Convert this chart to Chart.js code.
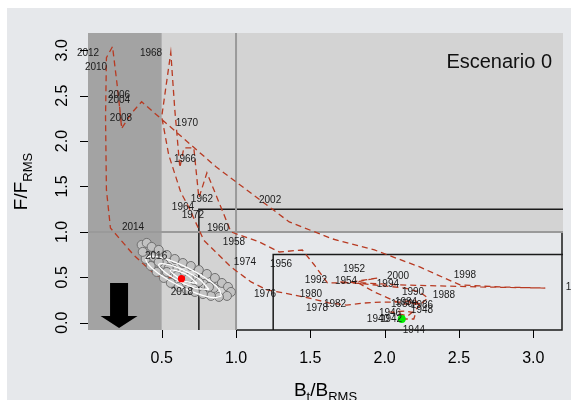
<!DOCTYPE html>
<html><head><meta charset="utf-8">
<script src="https://cdn.jsdelivr.net/npm/chart.js@4.4.1/dist/chart.umd.min.js"></script>
<style>html,body{margin:0;padding:0;background:#fff;overflow:hidden}canvas{display:block}</style>
</head><body>
<canvas id="c" width="571" height="400"></canvas>
<script>
// ---- data ----
const years = [1940,1941,1942,1943,1944,1945,1946,1947,1948,1949,1950,1951,1952,1953,1954,1955,1956,1957,1958,1959,
1960,1961,1962,1963,1964,1965,1966,1967,1968,1969,1970,1971,1972,1973,1974,1975,1976,1977,1978,1979,
1980,1981,1982,1983,1984,1985,1986,1987,1988,1989,1990,1991,1992,1993,1994,1995,1996,1997,1998,1999,
2000,2001,2002,2003,2004,2005,2006,2007,2008,2009,2010,2011,2012,2013,2014,2015,2016,2017,2018];
const bRatio = [2.115,2.196,2.209,2.135,2.047,2.155,2.236,2.169,2.25,2.135,2.068,1.932,1.811,1.953,1.73,1.615,1.527,1.446,1.291,1.155,
0.966,0.865,0.804,0.75,0.716,0.649,0.622,0.588,0.561,0.5,0.547,0.628,0.682,0.784,0.966,1.101,1.209,1.324,1.426,1.547,
1.628,1.743,1.865,1.986,2.101,2.203,2.236,2.291,2.236,2.135,2.0,1.865,1.696,1.865,2.101,2.642,3.081,2.777,2.507,2.236,
1.932,1.649,1.358,0.865,0.365,0.297,0.23,0.216,0.23,0.209,0.196,0.169,0.128,0.122,0.128,0.155,0.311,0.466,0.633];
const fRatio = [0.041,0.041,0.107,0.129,0.118,0.074,0.184,0.228,0.206,0.206,0.239,0.338,0.449,0.493,0.438,0.438,0.636,0.801,0.779,0.89,
1.0,1.407,1.65,1.374,1.926,1.926,1.706,2.346,2.975,2.268,1.849,1.437,1.272,0.906,0.614,0.449,0.361,0.327,0.294,0.25,
0.217,0.195,0.217,0.228,0.228,0.25,0.195,0.272,0.338,0.382,0.405,0.427,0.449,0.438,0.416,0.394,0.382,0.394,0.416,0.614,
0.801,0.923,1.11,1.717,2.433,2.307,2.14,2.387,2.163,2.488,2.676,3.04,2.919,2.264,1.463,1.043,0.746,0.515,0.485];

// year labels (label centres)
const labelYears = [1940,1942,1944,1946,1948,1950,1952,1954,1956,1958,1960,1962,1964,1966,1968,1970,1972,1974,1976,1978,
1980,1982,1984,1986,1988,1990,1992,1994,1996,1998,2000,2002,2004,2006,2008,2010,2012,2014,2016,2018];
const labelB = [1.955,2.043,2.197,2.036,2.251,2.117,1.794,1.740,1.303,0.986,0.879,0.771,0.643,0.657,0.428,0.670,0.710,1.060,1.195,1.545,
1.504,1.666,2.144,2.251,2.399,2.191,1.538,2.022,3.294,2.540,2.090,1.229,0.213,0.213,0.226,0.058,0.004,0.307,0.462,0.636];
const labelF = [0.041,0.041,-0.080,0.107,0.140,0.206,0.592,0.460,0.647,0.889,1.043,1.362,1.274,1.803,2.970,2.199,1.186,0.668,0.316,0.162,
0.316,0.206,0.228,0.195,0.305,0.338,0.470,0.426,0.393,0.525,0.514,1.351,2.452,2.507,2.254,2.815,2.970,1.054,0.735,0.338];

// uncertainty cloud of the last year
const cloudB = [0.365,0.399,0.432,0.480,0.534,0.588,0.642,0.696,0.750,0.804,0.858,0.905,0.946,0.966,0.939,0.885,0.831,0.777,0.723,0.669,0.615,0.561,0.514,0.466,0.426,0.392,0.372,
0.446,0.514,0.581,0.649,0.716,0.784,0.851,0.480,0.547,0.682,0.750,0.818,0.601,0.534];
const cloudF = [0.857,0.879,0.835,0.802,0.746,0.702,0.658,0.625,0.581,0.537,0.493,0.438,0.394,0.339,0.295,0.284,0.295,0.316,0.339,0.361,0.394,0.438,0.493,0.559,0.625,0.702,0.780,
0.724,0.647,0.581,0.526,0.471,0.427,0.383,0.669,0.603,0.493,0.449,0.394,0.515,0.559];

// density contours
const contour1B = [0.902,0.853,0.749,0.618,0.495,0.414,0.395,0.444,0.548,0.679,0.802,0.883,0.902];
const contour1F = [0.297,0.275,0.315,0.406,0.523,0.634,0.711,0.733,0.692,0.602,0.485,0.374,0.297];
const contour2B = [0.818,0.718,0.549,0.480,0.580,0.749,0.818];
const contour2F = [0.366,0.384,0.523,0.642,0.624,0.485,0.366];
const contour3B = [0.739,0.638,0.558,0.659,0.739];
const contour3F = [0.430,0.470,0.578,0.538,0.430];

const lastB = [0.633], lastF = [0.485];
const firstB = [2.115], firstF = [0.041];

const xTicks = [0.5,1.0,1.5,2.0,2.5,3.0];
const yTicks = [0.0,0.5,1.0,1.5,2.0,2.5,3.0];
const X_MIN = 0.004, X_MAX = 3.2, Y_MIN = -0.08, Y_MAX = 3.19;

// reference levels
const limitB = 0.5, targetB = 1.0, targetF = 1.0;
const arrowB = 0.213, arrowTopF = 0.437, arrowHeadF = 0.074, arrowTipF = -0.058;

const pts = (bs, fs) => bs.map((b, i) => ({x: b, y: fs[i]}));

const FONT = '"Liberation Sans", Arial, Helvetica, sans-serif';

const bgPlugin = {
  id: 'bg',
  beforeDraw(chart) {
    const {ctx, chartArea: a, scales: {x, y}} = chart;
    const px = v => x.getPixelForValue(v), py = v => y.getPixelForValue(v);
    ctx.save();
    ctx.fillStyle = '#ffffff'; ctx.fillRect(0, 0, chart.width, chart.height);
    ctx.fillStyle = '#e6e8eb'; ctx.fillRect(7, 8, chart.width - 7, chart.height - 8);
    ctx.fillStyle = '#d3d3d3';
    ctx.fillRect(px(limitB), a.top, a.right - px(limitB), py(targetF) - a.top);
    ctx.fillRect(px(limitB), py(targetF), px(targetB) - px(limitB), a.bottom - py(targetF));
    ctx.fillStyle = '#a3a3a3';
    ctx.fillRect(a.left, a.top, px(limitB) - a.left, a.bottom - a.top);
    ctx.strokeStyle = '#1a1a1a'; ctx.lineWidth = 1.5;
    ctx.beginPath();
    ctx.moveTo(px(0.75), a.bottom); ctx.lineTo(px(0.75), py(1.25)); ctx.lineTo(a.right, py(1.25));
    ctx.moveTo(px(1.25), a.bottom); ctx.lineTo(px(1.25), py(0.75)); ctx.lineTo(a.right, py(0.75));
    ctx.moveTo(px(targetB), a.bottom); ctx.lineTo(a.right - 1, a.bottom); ctx.lineTo(a.right - 1, py(targetF));
    ctx.stroke();
    ctx.strokeStyle = '#9a9a9a'; ctx.lineWidth = 2;
    ctx.beginPath();
    ctx.moveTo(px(targetB), a.top); ctx.lineTo(px(targetB), a.bottom);
    ctx.moveTo(a.left, py(targetF)); ctx.lineTo(a.right, py(targetF));
    ctx.stroke();
    ctx.restore();
  }
};

const fgPlugin = {
  id: 'fg',
  afterDatasetsDraw(chart) {
    const {ctx, chartArea: a, scales: {x, y}} = chart;
    const px = v => x.getPixelForValue(v), py = v => y.getPixelForValue(v);
    ctx.save();
    // year labels
    ctx.fillStyle = '#1a1a1a';
    ctx.font = '10px ' + FONT;
    ctx.textAlign = 'center'; ctx.textBaseline = 'middle';
    labelYears.forEach((yr, i) => ctx.fillText(String(yr), px(labelB[i]), py(labelF[i])));
    // arrow
    const ax = px(arrowB), st = py(arrowTopF), ht = py(arrowHeadF), tp = py(arrowTipF);
    ctx.fillStyle = '#000';
    ctx.beginPath();
    ctx.moveTo(ax - 9, st); ctx.lineTo(ax + 9, st); ctx.lineTo(ax + 9, ht); ctx.lineTo(ax + 18.5, ht);
    ctx.lineTo(ax, tp); ctx.lineTo(ax - 18.5, ht); ctx.lineTo(ax - 9, ht); ctx.closePath(); ctx.fill();
    // scenario text
    ctx.fillStyle = '#111';
    ctx.font = '20px ' + FONT;
    ctx.textAlign = 'right'; ctx.textBaseline = 'alphabetic';
    ctx.fillText('Escenario 0', 552, 68);
    // ticks
    ctx.strokeStyle = '#000'; ctx.lineWidth = 1;
    ctx.beginPath();
    xTicks.forEach(t => { const X = Math.round(px(t)) + 0.5; ctx.moveTo(X, a.bottom); ctx.lineTo(X, a.bottom + 8); });
    yTicks.forEach(t => { const Y = Math.round(py(t)) + 0.5; ctx.moveTo(a.left - 8, Y); ctx.lineTo(a.left, Y); });
    ctx.stroke();
    ctx.fillStyle = '#000';
    ctx.font = '16px ' + FONT;
    ctx.textAlign = 'center'; ctx.textBaseline = 'alphabetic';
    xTicks.forEach(t => ctx.fillText(t.toFixed(1), px(t), 363));
    yTicks.forEach(t => {
      ctx.save(); ctx.translate(67, py(t)); ctx.rotate(-Math.PI / 2);
      ctx.fillText(t.toFixed(1), 0, 0); ctx.restore();
    });
    // axis titles
    const big = '19px ' + FONT, small = '13px ' + FONT;
    const parts = (list) => {
      let w = 0; list.forEach(p => { ctx.font = p[1]; w += ctx.measureText(p[0]).width; }); return w;
    };
    const xt = [['B', big, 0], ['t', small, 5], ['/B', big, 0], ['RMS', small, 5]];
    let wx = parts(xt), cx = (a.left + a.right) / 2 - wx / 2;
    ctx.textAlign = 'left';
    xt.forEach(p => { ctx.font = p[1]; ctx.fillText(p[0], cx, 396 + p[2]); cx += ctx.measureText(p[0]).width; });
    const yt = [['F/F', big, 0], ['RMS', small, 5]];
    let wy = parts(yt);
    ctx.save(); ctx.translate(27, (a.top + a.bottom) / 2); ctx.rotate(-Math.PI / 2);
    let cy = -wy / 2;
    yt.forEach(p => { ctx.font = p[1]; ctx.fillText(p[0], cy, p[2]); cy += ctx.measureText(p[0]).width; });
    ctx.restore();
    ctx.restore();
  }
};

new Chart(document.getElementById('c'), {
  type: 'scatter',
  data: {
    datasets: [
      {data: pts(lastB, lastF), pointRadius: 3.6, pointBackgroundColor: '#ff0000', pointBorderColor: '#ff0000', pointBorderWidth: 0, order: 0},
      {data: pts(firstB, firstF), pointRadius: 4, pointBackgroundColor: '#00ee00', pointBorderColor: '#00ee00', pointBorderWidth: 0, order: 1},
      {data: pts(contour1B, contour1F), showLine: true, borderColor: '#ffffff', borderWidth: 1.3, pointRadius: 0, tension: 0.4, order: 2},
      {data: pts(contour2B, contour2F), showLine: true, borderColor: '#ffffff', borderWidth: 1.3, pointRadius: 0, tension: 0.4, order: 2},
      {data: pts(contour3B, contour3F), showLine: true, borderColor: '#ffffff', borderWidth: 1.3, pointRadius: 0, tension: 0.4, order: 2},
      {data: pts(cloudB, cloudF), pointRadius: 4.5, pointBackgroundColor: '#c2c2c2', pointBorderColor: '#707070', pointBorderWidth: 1, order: 3},
      {data: pts(bRatio, fRatio), showLine: true, borderColor: '#b83a22', borderWidth: 1.3, borderDash: [6, 4], pointRadius: 0, tension: 0, order: 4}
    ]
  },
  options: {
    responsive: false, animation: false, devicePixelRatio: 1, events: [],
    layout: {padding: {left: 88, right: 8, top: 33, bottom: 70}},
    scales: {
      x: {type: 'linear', min: X_MIN, max: X_MAX, display: false},
      y: {type: 'linear', min: Y_MIN, max: Y_MAX, display: false}
    },
    plugins: {legend: {display: false}, tooltip: {enabled: false}}
  },
  plugins: [bgPlugin, fgPlugin]
});
</script>
</body></html>
